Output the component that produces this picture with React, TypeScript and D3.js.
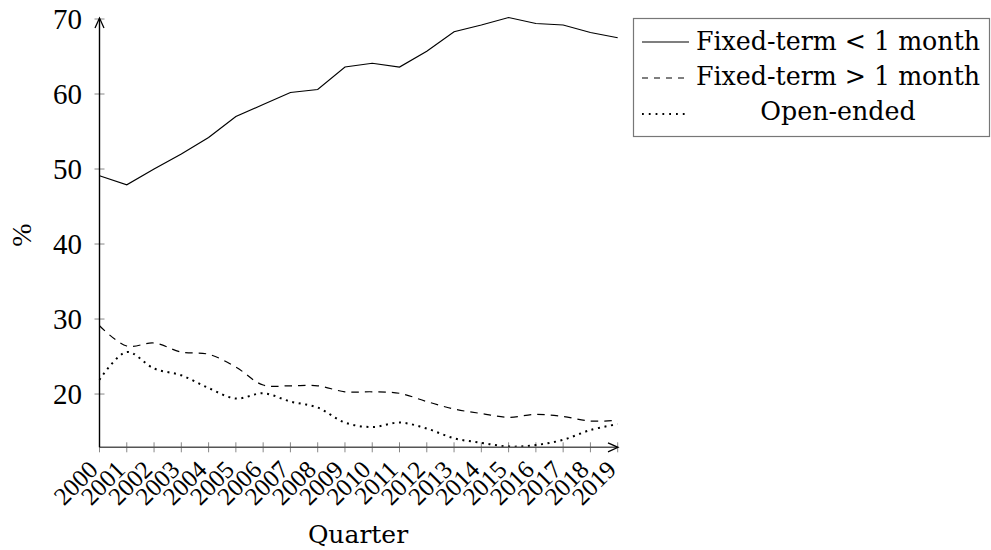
import React from "react";
import * as d3 from "d3";

const years = [2000, 2001, 2002, 2003, 2004, 2005, 2006, 2007, 2008, 2009, 2010, 2011, 2012, 2013, 2014, 2015, 2016, 2017, 2018, 2019];
const fixedShort = [49.1, 47.9, 50.0, 52.0, 54.2, 57.0, 58.6, 60.2, 60.6, 63.6, 64.1, 63.6, 65.7, 68.3, 69.2, 70.2, 69.4, 69.2, 68.2, 67.5];
const fixedLong = [29.1, 26.4, 26.8, 25.6, 25.3, 23.6, 21.2, 21.1, 21.1, 20.3, 20.3, 20.1, 19.0, 18.0, 17.4, 16.9, 17.3, 17.0, 16.4, 16.5];
const openEnded = [21.9, 25.6, 23.4, 22.5, 20.8, 19.4, 20.1, 19.0, 18.2, 16.2, 15.6, 16.2, 15.4, 14.1, 13.5, 13.0, 13.2, 13.9, 15.2, 16.0];
const yTicks = [20, 30, 40, 50, 60, 70];
const legendLabels = ["Fixed-term < 1 month", "Fixed-term > 1 month", "Open-ended"];

export default function App() {
  const W = 991, H = 550;
  const x = d3.scaleLinear().domain([2000, 2019]).range([99.5, 617.7]);
  const y = d3.scaleLinear().domain([12.9, 70]).range([447.3, 19]);
  const x0 = x(2000), yb = y(12.9);

  const mk = (vals: number[], smooth: boolean) =>
    d3.line<number>()
      .x((_, i) => x(years[i]))
      .y((v) => y(v))
      .curve(smooth ? d3.curveCatmullRom.alpha(0.5) : d3.curveLinear)(vals) || "";

  const series = [
    { vals: fixedShort, dash: "none", smooth: false, w: 1.2 },
    { vals: fixedLong, dash: "7.5 6", smooth: true, w: 1.2 },
    { vals: openEnded, dash: "2 4.6", smooth: true, w: 2 },
  ];

  const tickFont = "'Liberation Serif', serif";
  const textFont = "'DejaVu Serif', serif";

  return (
    <svg width={W} height={H} style={{ position: "absolute", left: 0, top: 0 }}>
      <rect x={0} y={0} width={W} height={H} fill="#fff" />
      {/* y ticks */}
      {yTicks.map((t) => (
        <g key={t}>
          <line x1={x0 - 5} x2={x0 + 5} y1={y(t)} y2={y(t)} stroke="#888" strokeWidth={1} />
          <text x={82} y={y(t)} dy="0.34em" textAnchor="end" fontFamily={tickFont} fontSize={29} fill="#000">{t}</text>
        </g>
      ))}
      {/* x ticks */}
      {years.map((yr) => (
        <g key={yr}>
          <line x1={x(yr)} x2={x(yr)} y1={yb - 5} y2={yb + 5} stroke="#888" strokeWidth={1} />
          <text transform={`translate(${x(yr) - 6},${yb + 18}) rotate(-45)`} textAnchor="end" dy="0.33em" fontFamily={tickFont} fontSize={25} fill="#000">{yr}</text>
        </g>
      ))}
      {/* series */}
      {series.map((s, i) => (
        <path key={i} d={mk(s.vals, s.smooth)} fill="none" stroke="#000" strokeWidth={s.w}
          strokeDasharray={s.dash} />
      ))}
      {/* axes */}
      <line x1={x0} x2={617} y1={yb} y2={yb} stroke="#555" strokeWidth={1.4} />
      <path d={`M${617 - 9},${yb - 4.5} L${618},${yb} L${617 - 9},${yb + 4.5}`} fill="none" stroke="#000" strokeWidth={1.3} />
      <line x1={x0} x2={x0} y1={yb} y2={19} stroke="#000" strokeWidth={1.4} />
      <path d={`M${x0 - 4.5},${28} L${x0},${18} L${x0 + 4.5},${28}`} fill="none" stroke="#000" strokeWidth={1.3} />
      {/* axis labels */}
      <text transform={`translate(31,235) rotate(-90)`} textAnchor="middle" fontFamily={tickFont} fontSize={28} fill="#000">%</text>
      <text x={358} y={543} textAnchor="middle" fontFamily={textFont} fontSize={25} fill="#000">Quarter</text>
      {/* legend */}
      <rect x={633.5} y={18.5} width={356} height={118} fill="#fff" stroke="#777" strokeWidth={1.2} />
      {legendLabels.map((lab, i) => {
        const ly = [42, 78, 114][i];
        const by = [50, 85, 120][i];
        return (
          <g key={lab}>
            <line x1={642} x2={689} y1={ly} y2={ly} stroke="#000" strokeWidth={i === 2 ? 1.8 : 1.2}
              strokeDasharray={i === 1 ? "6 6" : i === 2 ? "1.8 5" : "none"} />
            <text x={838} y={by} textAnchor="middle" fontFamily={textFont} fontSize={25.3} fill="#000">{lab}</text>
          </g>
        );
      })}
    </svg>
  );
}
